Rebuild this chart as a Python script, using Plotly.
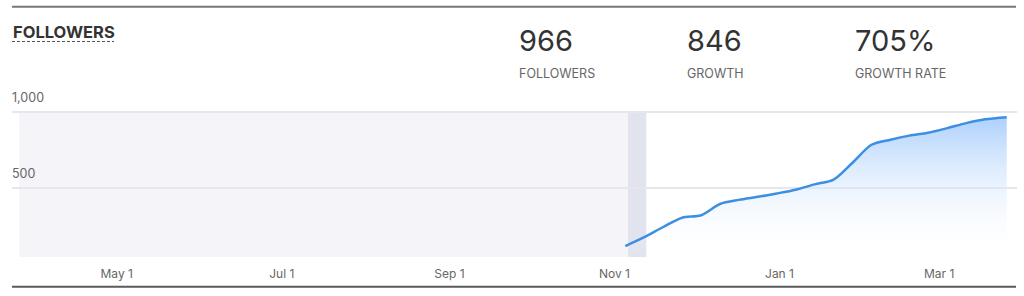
import plotly.graph_objects as go

# ---------------- data ----------------
dates = ["2018-11-05", "2018-11-12", "2018-11-19", "2018-11-26", "2018-12-03",
         "2018-12-10", "2018-12-17", "2018-12-24", "2018-12-31", "2019-01-07",
         "2019-01-14", "2019-01-21", "2019-01-28", "2019-02-04", "2019-02-11",
         "2019-02-18", "2019-02-25", "2019-03-04", "2019-03-11", "2019-03-18",
         "2019-03-26"]
followers = [120, 178, 245, 306, 322,
             396, 423, 443, 465, 490,
             525, 556, 667, 785, 818,
             845, 864, 894, 927, 952,
             966]

y_tick_vals = [500, 1000]
y_tick_text = ["500", "1,000"]

stat_values = ["966", "846", "705%"]
stat_labels = ["FOLLOWERS", "GROWTH", "GROWTH RATE"]
title_text = "FOLLOWERS"

history_start = "2018-03-26"
selected_start = "2018-11-06"
selected_end = "2018-11-12 18:00"

# ---------------- layout geometry ----------------
W, H = 1024, 296
L, R, T, B = 12, 7, 108, 39
pw, ph = W - L - R, H - T - B
Y_LO = 48
Y_HI = 1000 + 4 / 0.1522


def px(x):
    return (x - L) / pw


def py(y):
    return (H - B - y) / ph


FONT = "Inter"

fig = go.Figure()
fig.add_trace(go.Scatter(
    x=dates, y=followers, mode="lines",
    line=dict(color="#3d8fe2", width=2.5, shape="spline", smoothing=0.8),
    fill="tozeroy",
    fillgradient=dict(type="vertical",
                      colorscale=[[0, "rgba(255,255,255,0)"], [1, "rgba(172,208,252,1)"]],
                      start=Y_LO, stop=966),
    hoverinfo="skip", showlegend=False,
))

shapes = [
    dict(type="rect", xref="x", yref="y", x0=history_start, x1=selected_start,
         y0=Y_LO, y1=1000, fillcolor="#f4f4f9", line=dict(width=0), layer="below"),
    dict(type="rect", xref="x", yref="y", x0=selected_start, x1=selected_end,
         y0=Y_LO, y1=1000, fillcolor="#e1e4ee", line=dict(width=0), layer="below"),
    dict(type="line", xref="paper", yref="paper", x0=0, x1=px(1016),
         y0=py(6.7), y1=py(6.7), line=dict(color="#777777", width=2)),
    dict(type="line", xref="paper", yref="paper", x0=0, x1=px(1016),
         y0=py(286.7), y1=py(286.7), line=dict(color="#5a5a5a", width=2)),
    dict(type="line", xref="paper", yref="paper", x0=0, x1=px(114),
         y0=py(41.5), y1=py(41.5), line=dict(color="#555555", width=1, dash="3px,2px")),
]

annotations = [
    dict(text="<b>%s</b>" % title_text, x=px(11), y=py(31.5), xref="paper", yref="paper",
         xanchor="left", yanchor="middle", showarrow=False,
         font=dict(family=FONT, size=16.5, color="#333333")),
]
stat_x = [519, 687, 855]
for xv, val, lab in zip(stat_x, stat_values, stat_labels):
    annotations.append(dict(text=val, x=px(xv - 2), y=py(40.5), xref="paper", yref="paper",
                            xanchor="left", yanchor="middle", showarrow=False,
                            font=dict(family=FONT, size=29, color="#333333")))
    annotations.append(dict(text=lab, x=px(xv - 2), y=py(73), xref="paper", yref="paper",
                            xanchor="left", yanchor="middle", showarrow=False,
                            font=dict(family=FONT, size=12.5, color="#666666")))

fig.update_layout(
    width=W, height=H,
    margin=dict(l=L, r=R, t=T, b=B, pad=0),
    paper_bgcolor="white", plot_bgcolor="white",
    showlegend=False,
    shapes=shapes, annotations=annotations,
    xaxis=dict(type="date", range=["2018-03-23 07:00", "2019-03-29 19:00"],
               tick0="2018-05-01", dtick="M2", tickformat="%b %-d",
               showgrid=False, zeroline=False, showline=False, ticks="",
               ticklabelstandoff=8,
               tickfont=dict(family=FONT, size=12, color="#666666"),
               fixedrange=True),
    yaxis=dict(range=[Y_LO, Y_HI], tickvals=y_tick_vals, ticktext=y_tick_text,
               showgrid=True, gridcolor="#e6e6ee", gridwidth=1.5,
               zeroline=False, showline=False, ticks="",
               ticklabelposition="inside top", ticklabeloverflow="allow",
               ticklabelshift=-6, ticklabelstandoff=-3,
               tickfont=dict(family=FONT, size=12.5, color="#666666"),
               fixedrange=True),
)

fig.write_html("out.html")
